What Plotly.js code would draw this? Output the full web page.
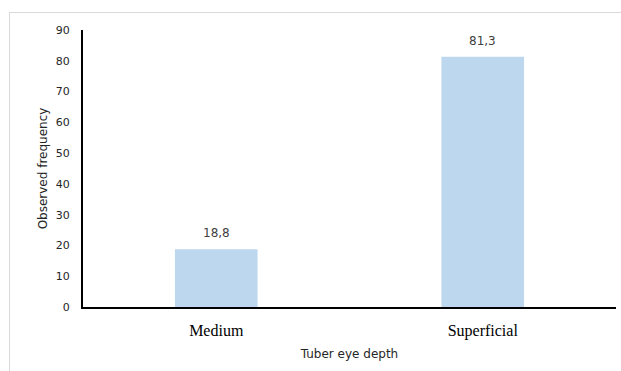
<!DOCTYPE html>
<html>
<head>
<meta charset="utf-8">
<script src="https://cdn.plot.ly/plotly-3.0.1.min.js"></script>
<style>
  html, body { margin: 0; padding: 0; background: #ffffff; }
  #chart { width: 621px; height: 371px; }
</style>
</head>
<body>
<div id="chart"></div>
<script>
// Tuber eye depth: observed frequency per class
const categories = ["Medium", "Superficial"];
const frequencies = [18.8, 81.3];
const yTicks = [0, 10, 20, 30, 40, 50, 60, 70, 80, 90];

const SANS = "'DejaVu Sans', sans-serif";
const SERIF = "'Liberation Serif', 'Times New Roman', serif";

const trace = {
  type: "bar",
  x: categories,
  y: frequencies,
  width: 0.31,
  marker: { color: "#bdd7ee" },
  hoverinfo: "skip"
};

// Value labels above each bar, decimal comma
const valueLabels = categories.map((c, i) => ({
  x: c,
  y: frequencies[i],
  xref: "x",
  yref: "y",
  text: frequencies[i].toFixed(1).replace(".", ","),
  showarrow: false,
  yanchor: "bottom",
  yshift: 7,
  font: { family: SANS, size: 12, color: "#404040" }
}));

// Plot area spans px 83..616 horizontally and 30..307 vertically
const L = 83, R = 616, T = 30, B = 307, W = 621, H = 371;
const px = v => (v - L) / (R - L);
const py = v => (B - v) / (B - T);

const layout = {
  width: W,
  height: H,
  margin: { l: L, r: W - R, t: T, b: H - B, pad: 0 },
  paper_bgcolor: "#ffffff",
  plot_bgcolor: "#ffffff",
  showlegend: false,
  xaxis: {
    type: "category",
    showline: true,
    linecolor: "#000000",
    linewidth: 2,
    showgrid: false,
    zeroline: false,
    ticks: "",
    tickfont: { family: SERIF, size: 16, color: "#000000" },
    ticklabelstandoff: 8,
    title: {
      text: "Tuber eye depth",
      font: { family: SANS, size: 12, color: "#262626" },
      standoff: 10
    }
  },
  yaxis: {
    range: [0, 90],
    tickvals: yTicks,
    showline: true,
    linecolor: "#000000",
    linewidth: 2,
    showgrid: false,
    zeroline: false,
    ticks: "",
    ticklabelstandoff: 9,
    tickfont: { family: SANS, size: 11, color: "#262626" },
    title: {
      text: "Observed frequency",
      font: { family: SANS, size: 12, color: "#262626" },
      standoff: 6
    }
  },
  annotations: valueLabels,
  shapes: [
    { type: "line", xref: "paper", yref: "paper", x0: px(9), x1: px(621), y0: py(12.5), y1: py(12.5),
      line: { color: "#d9d9d9", width: 1 } },
    { type: "line", xref: "paper", yref: "paper", x0: px(9.5), x1: px(9.5), y0: py(12), y1: py(371),
      line: { color: "#d9d9d9", width: 1 } }
  ]
};

Plotly.newPlot("chart", [trace], layout, { staticPlot: true, displayModeBar: false });
</script>
</body>
</html>
